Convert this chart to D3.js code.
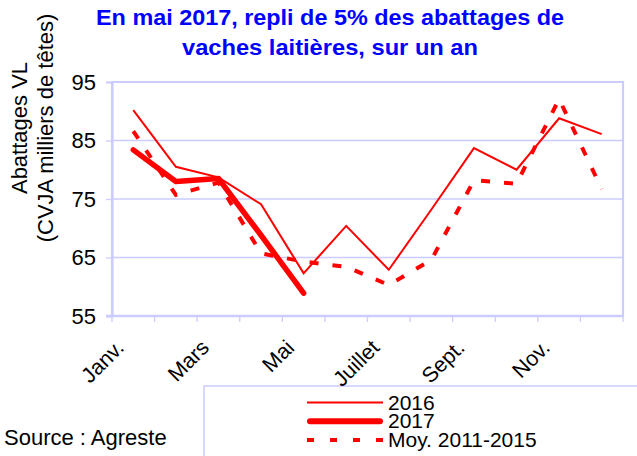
<!DOCTYPE html>
<html>
<head>
<meta charset="utf-8">
<script src="https://cdn.jsdelivr.net/npm/d3@7"></script>
<style>
  html, body { margin: 0; padding: 0; background: #fff; }
  svg { display: block; font-family: "Liberation Sans", Arial, sans-serif; }
</style>
</head>
<body>
<svg id="chart" width="637" height="456"></svg>
<script>
const months = ["Janv.", "Févr.", "Mars", "Avril", "Mai", "Juin", "Juillet", "Août", "Sept.", "Oct.", "Nov.", "Déc."];
const shownLabels = ["Janv.", "Mars", "Mai", "Juillet", "Sept.", "Nov."];
const values2016 = [90.2, 80.5, 78.7, 74.1, 62.3, 70.4, 62.9, 73.2, 83.7, 80.0, 88.8, 86.1];
const values2017 = [83.4, 78.0, 78.5, 68.8, 58.9];
const valuesMoy = [86.6, 75.7, 77.8, 65.7, 64.3, 63.4, 60.3, 64.6, 78.2, 77.6, 92.1, 76.7];
const yTicks = [55, 65, 75, 85, 95];
const seriesNames = ["2016", "2017", "Moy. 2011-2015"];
const titleLines = ["En mai 2017, repli de 5% des abattages de", "vaches laitières, sur un an"];
const yTitleLines = ["Abattages VL", "(CVJA milliers de têtes)"];
const sourceText = "Source : Agreste";

const svg = d3.select("#chart");
const plot = { left: 112, right: 623, top: 82, bottom: 316 };
const gridColor = "#ccccff";
const red = "#ff0000";
const fs = 22;

const x = d3.scaleBand().domain(months).range([plot.left, plot.right]).padding(0);
const y = d3.scaleLinear().domain([55, 95]).range([plot.bottom, plot.top]);
const cx = m => x(m) + x.bandwidth() / 2;

// Title
svg.append("g").selectAll("text").data(titleLines).join("text")
  .attr("x", 330).attr("y", (d, i) => 25 + i * 30)
  .attr("text-anchor", "middle")
  .attr("fill", "#0000ff").attr("font-weight", "bold").attr("font-size", 22)
  .attr("textLength", (d, i) => i === 0 ? 468 : 296)
  .attr("lengthAdjust", "spacingAndGlyphs")
  .text(d => d);

// Legend (drawn first so axis labels stay on top)
const lg = svg.append("g");
lg.append("rect").attr("x", 204).attr("y", 386).attr("width", 450).attr("height", 100)
  .attr("fill", "#fff").attr("stroke", gridColor).attr("stroke-width", 1.5);
const legendStyles = [
  { w: 2, dash: null, cap: "butt" },
  { w: 6, dash: null, cap: "round" },
  { w: 4, dash: "7,16", cap: "butt" }
];
const rows = lg.selectAll("g.row").data(seriesNames).join("g").attr("class", "row")
  .attr("transform", (d, i) => `translate(0,${402.5 + i * 18.8})`);
rows.append("line").attr("x1", (d, i) => i === 1 ? 310 : 307).attr("x2", (d, i) => i === 1 ? 380 : 383)
  .attr("y1", 0).attr("y2", 0)
  .attr("stroke", red)
  .attr("stroke-width", (d, i) => legendStyles[i].w)
  .attr("stroke-dasharray", (d, i) => legendStyles[i].dash)
  .attr("stroke-linecap", (d, i) => legendStyles[i].cap);
rows.append("text").attr("x", 388).attr("y", 7)
  .attr("font-size", 21).attr("fill", "#000").text(d => d);

// Gridlines
svg.append("g").selectAll("line").data(yTicks.filter(t => t !== 55 && t !== 95)).join("line")
  .attr("x1", plot.left).attr("x2", plot.right)
  .attr("y1", d => y(d)).attr("y2", d => y(d))
  .attr("stroke", gridColor).attr("stroke-width", 1.3);

// Plot border (top, right, left)
svg.append("path")
  .attr("d", `M${plot.left},${plot.bottom}V${plot.top}H${plot.right}V${plot.bottom}`)
  .attr("fill", "none").attr("stroke", gridColor).attr("stroke-width", 2.2);

// Y axis
const yAxis = d3.axisLeft(y).tickValues(yTicks).tickSize(6).tickPadding(10);
const gy = svg.append("g").attr("transform", `translate(${plot.left},0)`).call(yAxis);
gy.select(".domain").attr("stroke", gridColor).attr("stroke-width", 2.2);
gy.selectAll(".tick line").attr("stroke", gridColor).attr("stroke-width", 1.3);
gy.selectAll(".tick text").attr("font-size", fs).attr("fill", "#000")
  .attr("font-family", "Liberation Sans, Arial, sans-serif");

// X axis (ticks at band boundaries)
const boundaries = months.map(m => x(m)).concat([plot.right]);
const gx = svg.append("g");
gx.append("line").attr("x1", plot.left - 6).attr("x2", plot.right + 1)
  .attr("y1", plot.bottom).attr("y2", plot.bottom)
  .attr("stroke", gridColor).attr("stroke-width", 2.5);
gx.selectAll("line.tk").data(boundaries).join("line").attr("class", "tk")
  .attr("x1", d => d).attr("x2", d => d)
  .attr("y1", plot.bottom).attr("y2", plot.bottom + 6)
  .attr("stroke", gridColor).attr("stroke-width", 1.3);
gx.selectAll("text").data(shownLabels).join("text")
  .attr("transform", d => `translate(${cx(d) - 8},${plot.bottom + 33}) rotate(-45)`)
  .attr("text-anchor", "end")
  .attr("font-size", 21.5).attr("fill", "#000")
  .text(d => d);

// Y title
svg.append("g").attr("transform", "translate(0,128) rotate(-90)")
  .selectAll("text").data(yTitleLines).join("text")
  .attr("x", 0).attr("y", (d, i) => 27 + i * 26)
  .attr("text-anchor", "middle").attr("font-size", fs).attr("fill", "#000")
  .text(d => d);

// Lines
const line = d3.line().x(d => cx(d.m)).y(d => y(d.v));
const toPts = arr => arr.map((v, i) => ({ m: months[i], v }));

svg.append("path").datum(toPts(valuesMoy)).attr("d", line)
  .attr("fill", "none").attr("stroke", red).attr("stroke-width", 4)
  .attr("stroke-dasharray", "9,14");
svg.append("path").datum(toPts(values2016)).attr("d", line)
  .attr("fill", "none").attr("stroke", red).attr("stroke-width", 2);
svg.append("path").datum(toPts(values2017)).attr("d", line)
  .attr("fill", "none").attr("stroke", red).attr("stroke-width", 5.5)
  .attr("stroke-linejoin", "round").attr("stroke-linecap", "round");

// Source
svg.append("text").attr("x", 4).attr("y", 445)
  .attr("font-size", fs).attr("fill", "#000").text(sourceText);
</script>
</body>
</html>
